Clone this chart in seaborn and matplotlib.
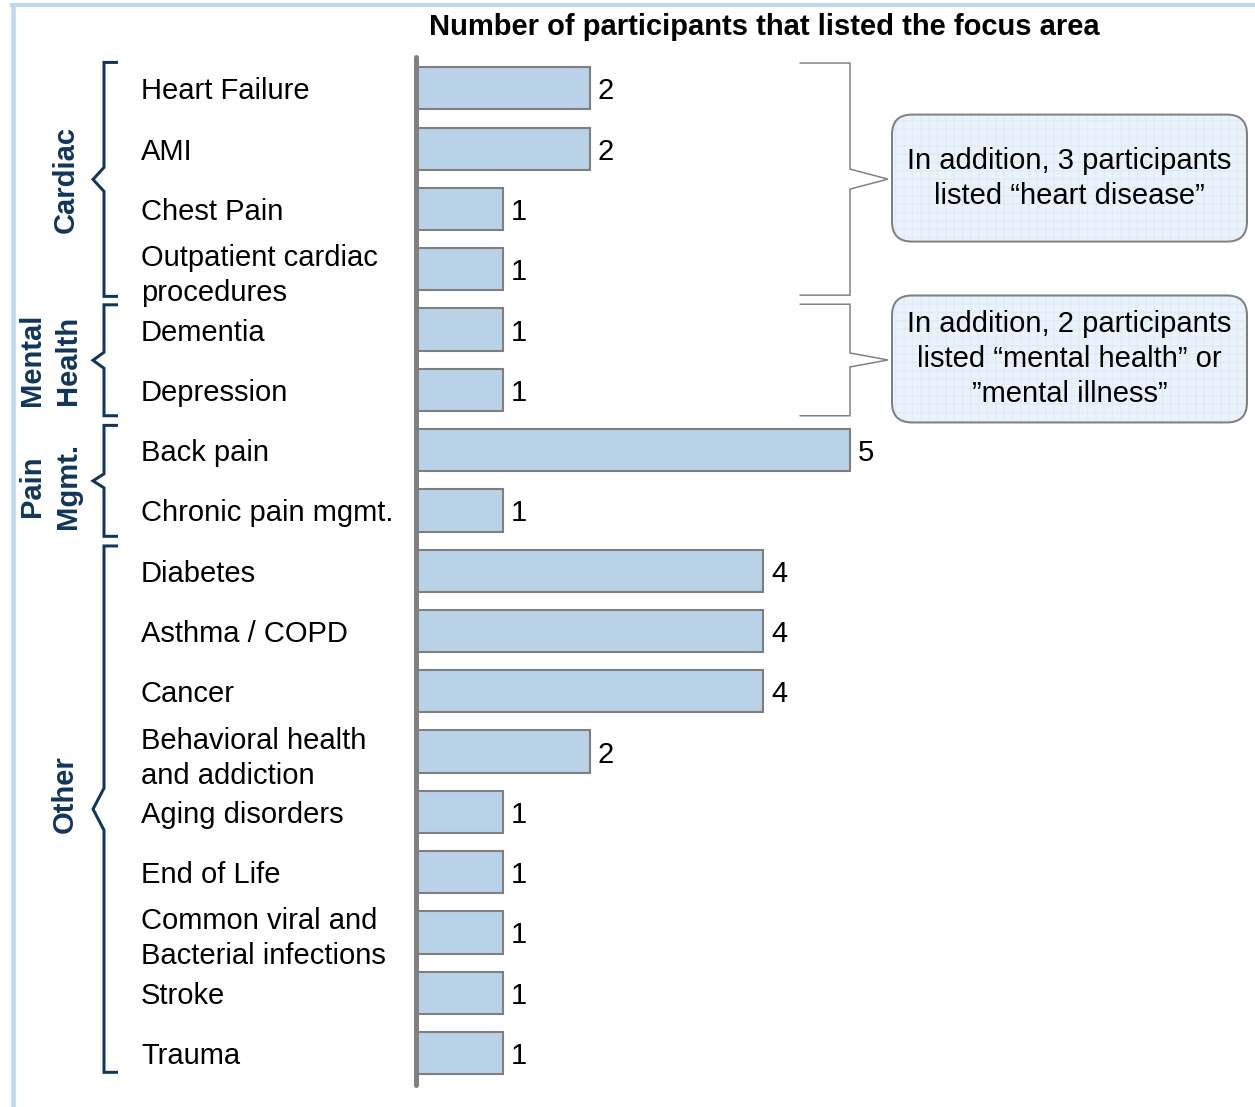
import matplotlib
matplotlib.use("Agg")
import matplotlib.pyplot as plt
import seaborn as sns
import pandas as pd
from matplotlib.patches import FancyBboxPatch

# Focus areas and how many participants listed each one
focus_areas = [
    "Heart Failure", "AMI", "Chest Pain", "Outpatient cardiac\nprocedures",
    "Dementia", "Depression",
    "Back pain", "Chronic pain mgmt.",
    "Diabetes", "Asthma / COPD", "Cancer", "Behavioral health\nand addiction",
    "Aging disorders", "End of Life", "Common viral and\nBacterial infections",
    "Stroke", "Trauma",
]
participants = [2, 2, 1, 1, 1, 1, 5, 1, 4, 4, 4, 2, 1, 1, 1, 1, 1]

# Category groups (first / last row of each group)
group_names = ["Cardiac", "Mental\nHealth", "Pain\nMgmt.", "Other"]
group_first = [0, 4, 6, 8]
group_last = [3, 5, 7, 16]

title = "Number of participants that listed the focus area"
note_cardiac = "In addition, 3 participants\nlisted \u201cheart disease\u201d"
note_mental = "In addition, 2 participants\nlisted \u201cmental health\u201d or\n\u201dmental illness\u201d"

# Styling
BAR = "#BAD2E7"
BAR_EDGE = "#7F7F7F"
AXIS_GREY = "#808080"
NAVY = "#12355A"
FRAME = "#BDD7EE"
NOTE_FILL = "#EAF3FB"
FS = 21
LS = 1.32

W, H, DPI = 1255, 1107, 100
PT = 72 / DPI  # points per pixel

sns.set_theme(style="white")
plt.rcParams["font.family"] = ["Liberation Sans", "DejaVu Sans"]

fig = plt.figure(figsize=(W / DPI, H / DPI), dpi=DPI)
fig.patch.set_facecolor("white")

# Main bar axes
ax_left, ax_top, ax_bottom = 416, 57, 1085
ax = fig.add_axes([ax_left / W, (H - ax_bottom) / H, (W - ax_left) / W, (ax_bottom - ax_top) / H])
df = pd.DataFrame({"area": focus_areas, "count": participants})
sns.barplot(data=df, x="count", y="area", orient="h", color=BAR, saturation=1,
            edgecolor=BAR_EDGE, linewidth=1.5, width=0.7, ax=ax, zorder=2)

px_per_unit = 86.8
ax.set_xlim(0, (W - ax_left) / px_per_unit)
ax.set_ylim(len(focus_areas) - 0.47, -0.52)
for s in ax.spines.values():
    s.set_visible(False)
ax.set_xticks([])
ax.set_xlabel("")
ax.set_ylabel("")
ax.set_yticks(range(len(focus_areas)))
ax.set_yticklabels(focus_areas, ha="left", fontsize=FS, color="black")
for lab in ax.get_yticklabels():
    lab.set_linespacing(LS)
ax.tick_params(axis="y", length=0, pad=(ax_left - 141) * PT)
ax.set_facecolor("none")

# Value axis line
ax.plot([0, 0], [-0.52, len(focus_areas) - 0.47], color=AXIS_GREY, lw=5 * PT,
        solid_capstyle="round", clip_on=False, zorder=3)

for cont in ax.containers:
    for t in ax.bar_label(cont, fmt="%d", padding=8 * PT, fontsize=FS, color="black"):
        t.set_y(t.get_position()[1])
        t.set_va("center_baseline")

# Title
fig.text(764 / W, 1 - 27 / H, title, ha="center", va="center",
         fontsize=FS, fontweight="bold", color="black")

# Overlay in pixel coordinates for frame, braces and notes
ov = fig.add_axes([0, 0, 1, 1])
ov.set_xlim(0, W)
ov.set_ylim(H, 0)
ov.axis("off")
ov.patch.set_alpha(0)


def row_px(y):
    return H - ax.transData.transform((0, y))[1]


# Light blue frame along the top and left edges
ov.plot([10, W], [5.3, 5.3], color=FRAME, lw=4 * PT, solid_capstyle="butt")
ov.plot([12.5, 12.5], [3.3, H], color=FRAME, lw=4.5 * PT, solid_capstyle="butt")

# Group braces with rotated labels
brace_top_pad = [0.43, 0.41, 0.41, 0.41]
brace_bottom_pad = [0.45, 0.43, 0.43, 0.32]
notch_half = [12, 8, 7, 21]
label_x = [66, 50, 50, 65]
label_dy = [0, 0, 5, -15]
for name, i0, i1, tp, bp, nh, lx, dy in zip(group_names, group_first, group_last,
                                             brace_top_pad, brace_bottom_pad,
                                             notch_half, label_x, label_dy):
    top = row_px(i0 - tp)
    bot = row_px(i1 + bp)
    mid = (top + bot) / 2
    xs = [118, 104, 104, 93, 104, 104, 118]
    ys = [top, top, mid - nh, mid, mid + nh, bot, bot]
    ov.plot(xs, ys, color=NAVY, lw=3 * PT, solid_joinstyle="miter", solid_capstyle="butt")
    ov.text(lx, mid + dy, name, rotation=90, ha="center", va="center",
            multialignment="center", linespacing=LS,
            fontsize=FS, fontweight="bold", color=NAVY)


# Right-hand brackets pointing to the notes
def note(i0, i1, text, gap):
    top = row_px(i0 - 0.42)
    bot = row_px(i1 + 0.43)
    mid = (top + bot) / 2
    ov.plot([800, 850, 850, 888, 850, 850, 800],
            [top, top, mid - gap, mid, mid + gap, bot, bot],
            color=AXIS_GREY, lw=1.5 * PT, solid_joinstyle="miter")
    bw, bh = 355, 127
    x0, y0 = 892, mid - bh / 2 - 1
    fill = FancyBboxPatch((x0, y0), bw, bh, boxstyle="round,pad=0,rounding_size=20",
                          facecolor=NOTE_FILL, edgecolor="#E0EBF6", hatch="++", lw=0)
    ov.add_patch(fill)
    edge = FancyBboxPatch((x0, y0), bw, bh, boxstyle="round,pad=0,rounding_size=20",
                          facecolor="none", edgecolor=AXIS_GREY, lw=2 * PT)
    ov.add_patch(edge)
    ov.text(x0 + bw / 2, y0 + bh / 2, text, ha="center", va="center",
            multialignment="center", linespacing=LS, fontsize=FS, color="black")


note(group_first[0], group_last[0], note_cardiac, 10)
note(group_first[1], group_last[1], note_mental, 7)

fig.savefig("out.png", dpi=DPI, facecolor="white")
